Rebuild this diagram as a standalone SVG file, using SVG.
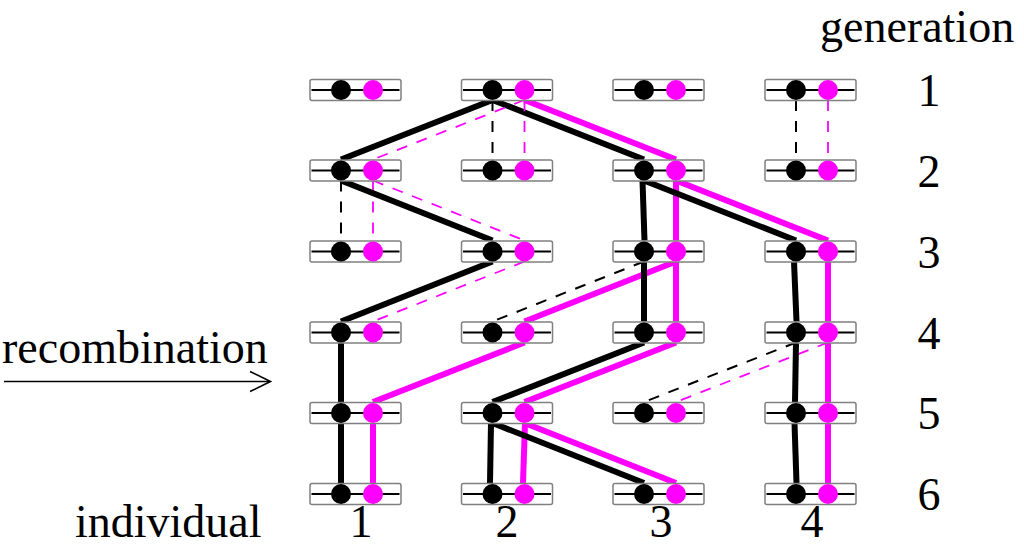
<svg xmlns="http://www.w3.org/2000/svg" xmlns:xlink="http://www.w3.org/1999/xlink" width="1024" height="546" viewBox="0 0 1024 546">
<style>
.box{fill:#fff;stroke:#808080;stroke-width:1.5}
.axis{stroke:#000;stroke-width:1.8}
.b{fill:#000}
.m{fill:#ff00ff}
.tb{stroke:#000;stroke-width:6;fill:none}
.tm{stroke:#ff00ff;stroke-width:6;fill:none}
.db{stroke:#000;stroke-width:2;stroke-dasharray:11 10;fill:none}
.dm{stroke:#ff00ff;stroke-width:1.8;stroke-dasharray:11 10;fill:none}
.t{font-family:"Liberation Serif","Times New Roman",serif;font-size:46px;fill:#000}
</style>
<defs>
<g id="node">
<rect class="box" x="-31" y="-10.5" width="91" height="21" rx="2"/>
<line class="axis" x1="-29.5" y1="0" x2="58.5" y2="0"/>
<circle class="b" cx="0" cy="0" r="10"/>
<circle class="m" cx="32" cy="0" r="10"/>
</g>
</defs>
<g id="connectors">
<!-- gen 1 to 2 -->
<line class="tb" x1="492.5" y1="100" x2="341" y2="159.5"/>
<line class="tb" x1="492.5" y1="100" x2="644" y2="159.5"/>
<line class="tm" x1="524.5" y1="100" x2="676" y2="159.5"/>
<line class="dm" x1="524.5" y1="100" x2="373" y2="159.5"/>
<line class="db" x1="492.5" y1="100" x2="492.5" y2="159.5"/>
<line class="dm" x1="524.5" y1="100" x2="524.5" y2="159.5"/>
<line class="db" x1="796" y1="100" x2="796" y2="159.5"/>
<line class="dm" x1="828" y1="100" x2="828" y2="159.5"/>
<!-- gen 2 to 3 -->
<line class="db" x1="341" y1="180.5" x2="341" y2="240.5"/>
<line class="dm" x1="373" y1="180.5" x2="373" y2="240.5"/>
<line class="tb" x1="341" y1="180.5" x2="492.5" y2="240.5"/>
<line class="dm" x1="373" y1="180.5" x2="524.5" y2="240.5"/>
<line class="tb" x1="642.5" y1="180.5" x2="644.5" y2="240.5"/>
<line class="tm" x1="676" y1="180.5" x2="676" y2="240.5"/>
<line class="tb" x1="644" y1="180.5" x2="796" y2="240.5"/>
<line class="tm" x1="676" y1="180.5" x2="828" y2="240.5"/>
<!-- gen 3 to 4 -->
<line class="tb" x1="492.5" y1="261.5" x2="341" y2="321.5"/>
<line class="dm" x1="524.5" y1="261.5" x2="373" y2="321.5"/>
<line class="db" x1="644" y1="261.5" x2="492.5" y2="321.5"/>
<line class="tm" x1="676" y1="261.5" x2="524.5" y2="321.5"/>
<line class="tb" x1="644" y1="261.5" x2="644" y2="321.5"/>
<line class="tm" x1="676" y1="261.5" x2="676" y2="321.5"/>
<line class="tb" x1="794" y1="261.5" x2="796.5" y2="321.5"/>
<line class="tm" x1="828" y1="261.5" x2="828" y2="321.5"/>
<!-- gen 4 to 5 -->
<line class="tb" x1="341" y1="342.5" x2="341" y2="402"/>
<line class="tm" x1="524.5" y1="342.5" x2="373" y2="402"/>
<line class="tb" x1="644" y1="342.5" x2="492.5" y2="402"/>
<line class="tm" x1="676" y1="342.5" x2="524.5" y2="402"/>
<line class="db" x1="796" y1="342.5" x2="644" y2="402"/>
<line class="dm" x1="828" y1="342.5" x2="676" y2="402"/>
<line class="tb" x1="796" y1="342.5" x2="795" y2="402"/>
<line class="tm" x1="828" y1="342.5" x2="828" y2="402"/>
<!-- gen 5 to 6 -->
<line class="tb" x1="341" y1="423" x2="341" y2="483"/>
<line class="tm" x1="373" y1="423" x2="373" y2="483"/>
<line class="tb" x1="491" y1="423" x2="490" y2="483"/>
<line class="tm" x1="525" y1="423" x2="523" y2="483"/>
<line class="tb" x1="492.5" y1="423" x2="644" y2="483"/>
<line class="tm" x1="524.5" y1="423" x2="676" y2="483"/>
<line class="tb" x1="794.5" y1="423" x2="796.5" y2="483"/>
<line class="tm" x1="828" y1="423" x2="828" y2="483"/>
</g>
<g id="g1-i1"><use xlink:href="#node" x="341" y="90"/></g>
<g id="g1-i2"><use xlink:href="#node" x="492.5" y="90"/></g>
<g id="g1-i3"><use xlink:href="#node" x="644" y="90"/></g>
<g id="g1-i4"><use xlink:href="#node" x="796" y="90"/></g>
<g id="g2-i1"><use xlink:href="#node" x="341" y="170.5"/></g>
<g id="g2-i2"><use xlink:href="#node" x="492.5" y="170.5"/></g>
<g id="g2-i3"><use xlink:href="#node" x="644" y="170.5"/></g>
<g id="g2-i4"><use xlink:href="#node" x="796" y="170.5"/></g>
<g id="g3-i1"><use xlink:href="#node" x="341" y="251.5"/></g>
<g id="g3-i2"><use xlink:href="#node" x="492.5" y="251.5"/></g>
<g id="g3-i3"><use xlink:href="#node" x="644" y="251.5"/></g>
<g id="g3-i4"><use xlink:href="#node" x="796" y="251.5"/></g>
<g id="g4-i1"><use xlink:href="#node" x="341" y="332.5"/></g>
<g id="g4-i2"><use xlink:href="#node" x="492.5" y="332.5"/></g>
<g id="g4-i3"><use xlink:href="#node" x="644" y="332.5"/></g>
<g id="g4-i4"><use xlink:href="#node" x="796" y="332.5"/></g>
<g id="g5-i1"><use xlink:href="#node" x="341" y="413"/></g>
<g id="g5-i2"><use xlink:href="#node" x="492.5" y="413"/></g>
<g id="g5-i3"><use xlink:href="#node" x="644" y="413"/></g>
<g id="g5-i4"><use xlink:href="#node" x="796" y="413"/></g>
<g id="g6-i1"><use xlink:href="#node" x="341" y="494"/></g>
<g id="g6-i2"><use xlink:href="#node" x="492.5" y="494"/></g>
<g id="g6-i3"><use xlink:href="#node" x="644" y="494"/></g>
<g id="g6-i4"><use xlink:href="#node" x="796" y="494"/></g>
<g id="labels">
<text class="t" x="820" y="42">generation</text>
<text class="t" x="929" y="106" text-anchor="middle">1</text>
<text class="t" x="929" y="186.5" text-anchor="middle">2</text>
<text class="t" x="929" y="267.5" text-anchor="middle">3</text>
<text class="t" x="929" y="348.5" text-anchor="middle">4</text>
<text class="t" x="929" y="429" text-anchor="middle">5</text>
<text class="t" x="929" y="510" text-anchor="middle">6</text>
<text class="t" x="2" y="363">recombination</text>
<text class="t" x="75" y="537">individual</text>
<text class="t" x="361" y="537" text-anchor="middle">1</text>
<text class="t" x="507" y="537" text-anchor="middle">2</text>
<text class="t" x="661" y="537" text-anchor="middle">3</text>
<text class="t" x="812" y="537" text-anchor="middle">4</text>
</g>
<g id="arrow" fill="none" stroke="#000" stroke-width="1.6">
<line x1="4" y1="381.5" x2="269" y2="381.5"/>
<polyline points="250,371.5 270.5,381.5 250,391.5"/>
</g>
</svg>
